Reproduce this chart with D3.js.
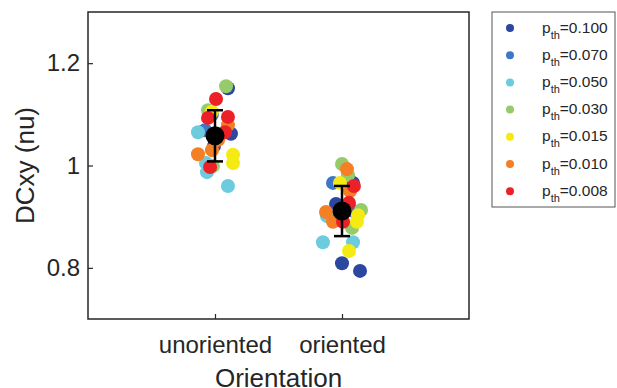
<!DOCTYPE html>
<html>
<head>
    <script src="https://cdn.jsdelivr.net/npm/d3@7"></script>
    <style>
        body { margin: 0; background: #fff; }
        svg { display: block; font-family: 'Liberation Sans', Arial, sans-serif; }
    </style>
</head>
<body>
    <svg width="617" height="388" id="mainsvg"></svg>
    <script>
        // categories and thresholds
        const categories = ['unoriented', 'oriented'];
        const thresholds = ['0.100', '0.070', '0.050', '0.030', '0.015', '0.010', '0.008'];
        const colors = ['#2c47a0', '#3d78c8', '#6ccbdd', '#95cb6b', '#f6ea14', '#f47f25', '#ec2027'];
        const yTicks = [0.8, 1, 1.2];

        // per-threshold points: [category index, x jitter, value]
        const p100 = [[0, 0.102, 1.151], [0, 0.126, 1.062], [0, -0.008, 1.038],
                      [1, 0.087, 0.966], [1, 0.000, 0.809], [1, 0.142, 0.794], [1, -0.047, 0.925]];
        const p070 = [[0, -0.079, 1.069], [0, -0.024, 1.100],
                      [1, -0.071, 0.966], [1, 0.079, 0.912]];
        const p050 = [[0, -0.134, 1.065], [0, -0.071, 1.005], [0, -0.063, 0.987], [0, 0.102, 0.960],
                      [1, -0.150, 0.850], [1, 0.087, 0.850], [1, -0.118, 0.901]];
        const p030 = [[0, 0.087, 1.155], [0, -0.055, 1.108], [0, -0.016, 0.999],
                      [1, 0.000, 1.003], [1, 0.047, 0.981], [1, 0.150, 0.913], [1, 0.079, 0.878]];
        const p015 = [[0, -0.024, 1.105], [0, 0.142, 1.021], [0, 0.142, 1.005],
                      [1, -0.016, 0.966], [1, 0.126, 0.903], [1, 0.118, 0.890], [1, 0.055, 0.833]];
        const p010 = [[0, 0.102, 1.079], [0, -0.134, 1.022], [0, -0.024, 1.030], [0, 0.024, 1.050],
                      [1, 0.039, 0.993], [1, 0.063, 0.950], [1, -0.126, 0.909], [1, -0.071, 0.890]];
        const p008 = [[0, 0.008, 1.130], [0, -0.055, 1.093], [0, 0.102, 1.095], [0, 0.079, 1.065], [0, -0.039, 0.997],
                      [1, 0.094, 0.960], [1, 0.055, 0.927], [1, 0.008, 0.890]];
        const series = [p100, p070, p050, p030, p015, p010, p008];

        // group means and standard deviations
        const means = [1.058, 0.911];
        const sds = [0.050, 0.049];

        const svg = d3.select('#mainsvg');
        const margin = { left: 88, top: 12, right: 148, bottom: 69 };
        const innerWidth = 617 - margin.left - margin.right;
        const innerHeight = 388 - margin.top - margin.bottom;
        const axisColor = '#262626';

        const g = svg.append('g')
            .attr('transform', `translate(${margin.left}, ${margin.top})`);

        const xScale = d3.scaleLinear().domain([0, 3]).range([0, innerWidth]);
        const yScale = d3.scaleLinear().domain([0.7, 1.3]).range([innerHeight, 0]);

        // axes with inward ticks
        const xAxis = d3.axisBottom(xScale)
            .tickValues([1, 2])
            .tickFormat((d) => categories[d - 1])
            .tickSize(-5).tickPadding(17);
        const yAxis = d3.axisLeft(yScale)
            .tickValues(yTicks)
            .tickFormat(d3.format('~g'))
            .tickSize(-5).tickPadding(8);

        const gx = g.append('g').attr('transform', `translate(0, ${innerHeight})`).call(xAxis);
        const gy = g.append('g').call(yAxis);
        [gx, gy].forEach((ax) => {
            ax.select('.domain').remove();
            ax.selectAll('line').attr('stroke', axisColor).attr('stroke-width', 1.2);
            ax.selectAll('text').attr('fill', axisColor).style('font-size', '24px')
                .style('font-family', "'Liberation Sans', Arial, sans-serif");
        });

        // points
        series.forEach((pts, i) => {
            g.append('g').selectAll('circle')
                .data(pts)
                .enter()
                .append('circle')
                    .attr('cx', (d) => xScale(d[0] + 1 + d[1]))
                    .attr('cy', (d) => yScale(d[2]))
                    .attr('r', 7)
                    .attr('fill', colors[i]);
        });

        // error bars and means
        const eb = g.append('g');
        means.forEach((m, i) => {
            const cx = xScale(i + 1);
            eb.append('line')
                .attr('x1', cx).attr('x2', cx)
                .attr('y1', yScale(m - sds[i])).attr('y2', yScale(m + sds[i]))
                .attr('stroke', '#000').attr('stroke-width', 2.5);
            [m - sds[i], m + sds[i]].forEach((v) => {
                eb.append('line')
                    .attr('x1', cx - 8).attr('x2', cx + 8)
                    .attr('y1', yScale(v)).attr('y2', yScale(v))
                    .attr('stroke', '#000').attr('stroke-width', 2.5);
            });
            eb.append('circle')
                .attr('cx', cx).attr('cy', yScale(m))
                .attr('r', 9.5).attr('fill', '#000');
        });

        // box
        g.append('rect')
            .attr('width', innerWidth).attr('height', innerHeight)
            .attr('fill', 'none').attr('stroke', axisColor).attr('stroke-width', 1.5);

        // axis labels
        svg.append('text')
            .attr('x', margin.left + innerWidth / 2).attr('y', 387)
            .attr('text-anchor', 'middle')
            .attr('fill', axisColor)
            .style('font-size', '26px')
            .text('Orientation');

        svg.append('text')
            .attr('transform', `translate(34, ${margin.top + yScale(1)}) rotate(-90)`)
            .attr('text-anchor', 'middle')
            .attr('fill', axisColor)
            .style('font-size', '26px')
            .text('DCxy (nu)');

        // legend
        const legend = svg.append('g');
        legend.append('rect')
            .attr('x', 492).attr('y', 12).attr('width', 123).attr('height', 195)
            .attr('fill', '#fff').attr('stroke', '#555').attr('stroke-width', 1);

        thresholds.forEach((t, i) => {
            const y = 28 + i * 27.2;
            legend.append('circle')
                .attr('cx', 510).attr('cy', y).attr('r', 4)
                .attr('fill', colors[i]);
            const txt = legend.append('text')
                .attr('x', 542).attr('y', y + 4.5)
                .attr('fill', axisColor)
                .style('font-size', '15.5px');
            txt.append('tspan').text('p');
            txt.append('tspan').attr('dy', 6).style('font-size', '11px').text('th');
            txt.append('tspan').attr('dy', -6).text('=' + t);
        });
    </script>
</body>
</html>
